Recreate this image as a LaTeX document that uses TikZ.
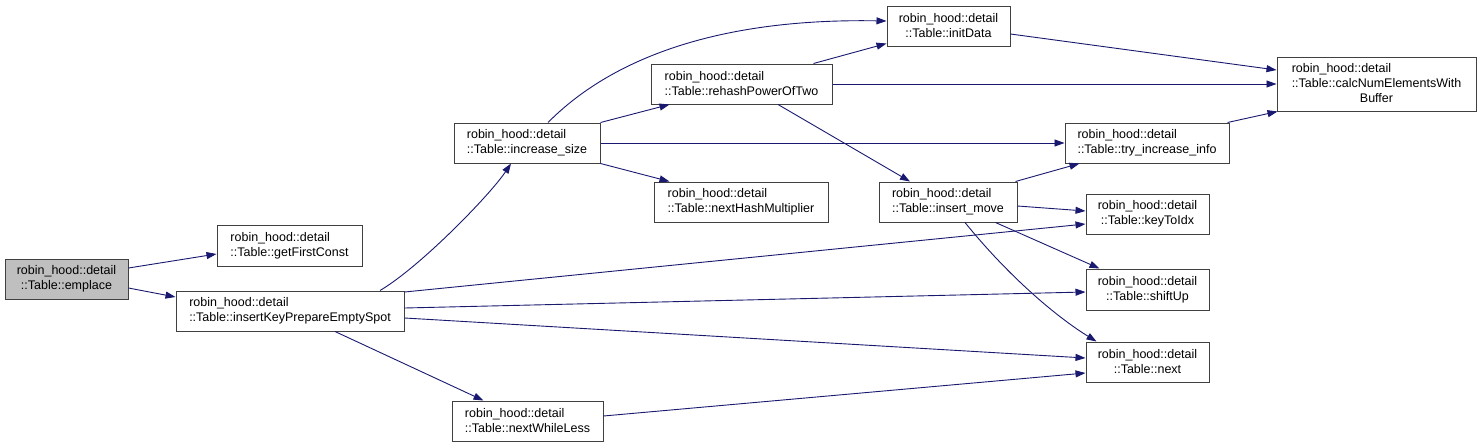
\documentclass[tikz,border=0pt]{standalone}
\usepackage{fontspec}
\setmainfont{Liberation Sans}
\usetikzlibrary{arrows.meta,calc}
\definecolor{edgec}{HTML}{191970}
\definecolor{nodegray}{HTML}{BFBFBF}
\definecolor{boxline}{HTML}{404040}
\begin{document}
\begin{tikzpicture}[x=1pt,y=-1pt,
  fnode/.style={draw=boxline,line width=1pt,fill=white,inner sep=0pt,font=\fontsize{12.5}{15}\selectfont},
  lnode/.style={fnode,align=left},
  cnode/.style={fnode,align=center},
  call/.style={draw=edgec,line width=0.9pt,-{Triangle[length=10pt,width=7pt]}}]
\useasboundingbox (0,0) rectangle (1481,447);
\fill[white] (0,0) rectangle (1481,447);
% nodes
\node[cnode,fill=nodegray,minimum width=123pt,minimum height=40pt] (E) at (66.5,279) {robin\_hood::detail\\::Table::emplace};
\node[lnode,minimum width=145pt,minimum height=41pt] (G) at (289.5,245.5) {robin\_hood::detail\\::Table::getFirstConst};
\node[lnode,minimum width=228pt,minimum height=40pt] (I) at (290,311) {robin\_hood::detail\\::Table::insertKeyPrepareEmptySpot};
\node[lnode,minimum width=146pt,minimum height=40pt] (S) at (527,143) {robin\_hood::detail\\::Table::increase\_size};
\node[lnode,minimum width=181pt,minimum height=40pt] (R) at (741.5,84) {robin\_hood::detail\\::Table::rehashPowerOfTwo};
\node[lnode,minimum width=174pt,minimum height=40pt] (H) at (741,202) {robin\_hood::detail\\::Table::nextHashMultiplier};
\node[lnode,minimum width=151pt,minimum height=40pt] (W) at (527.5,421) {robin\_hood::detail\\::Table::nextWhileLess};
\node[cnode,minimum width=123pt,minimum height=40pt] (D) at (948.5,26) {robin\_hood::detail\\::Table::initData};
\node[fnode,minimum width=199pt,minimum height=54pt] (C) at (1376.5,84) {\begin{tabular}{@{}l@{}}robin\_hood::detail\\::Table::calcNumElementsWith\\\multicolumn{1}{@{}c@{}}{Buffer}\end{tabular}};
\node[lnode,minimum width=164pt,minimum height=40pt] (T) at (1147,143) {robin\_hood::detail\\::Table::try\_increase\_info};
\node[lnode,minimum width=138pt,minimum height=40pt] (M) at (948,202) {robin\_hood::detail\\::Table::insert\_move};
\node[cnode,minimum width=123pt,minimum height=40pt] (K) at (1147.5,214) {robin\_hood::detail\\::Table::keyToIdx};
\node[cnode,minimum width=123pt,minimum height=41pt] (U) at (1147.5,289.5) {robin\_hood::detail\\::Table::shiftUp};
\node[cnode,minimum width=123pt,minimum height=40pt] (N) at (1147.5,362) {robin\_hood::detail\\::Table::next};
% edges
\draw[call] ($(E.east)+(0,-11)$) -- ($(G.west)+(0,8.5)$);
\draw[call] ($(E.east)+(0,9)$) -- ($(I.west)+(0,-14)$);
\draw[call] ($(I.north)+(90,0)$) .. controls (420,267) and (490,195) .. ($(S.south)+(-16,0)$);
\draw[call] ($(I.east)+(0,-19)$) -- ($(K.west)+(0,10)$);
\draw[call] ($(I.east)+(0,-3)$) -- ($(U.west)+(0,2.5)$);
\draw[call] ($(I.east)+(0,7)$) -- ($(N.west)+(0,-4)$);
\draw[call] ($(I.south)+(45,0)$) -- ($(W.north)+(-44,0)$);
\draw[call] ($(W.east)+(0,-5)$) -- ($(N.west)+(0,11)$);
\draw[call] ($(S.north)+(21,0)$) .. controls (610,60) and (715,18) .. ($(D.west)+(0,-5)$);
\draw[call] (S.north east) -- ($(R.south west)+(19,0)$);
\draw[call] (S.east) -- (T.west);
\draw[call] (S.south east) -- ($(H.north west)+(16,0)$);
\draw[call] ($(R.north east)+(-19,0)$) -- ($(D.south west)+(0,-3)$);
\draw[call] (R.east) -- (C.west);
\draw[call] ($(R.south)+(36.5,0)$) -- ($(M.north)+(-38,0)$);
\draw[call] ($(D.east)+(0,8)$) -- ($(C.west)+(0,-14)$);
\draw[call] ($(T.north east)+(-2,0)$) -- ($(C.south west)+(1,0)$);
\draw[call] ($(M.north east)+(-2,0)$) -- ($(T.south west)+(15,0)$);
\draw[call] ($(M.east)+(0,4)$) -- ($(K.west)+(0,-3)$);
\draw[call] ($(M.south east)+(-22,0)$) -- ($(U.north west)+(14,0)$);
\draw[call] ($(M.south)+(17,0)$) .. controls (1005,272) and (1052,314) .. ($(N.north west)+(11,0)$);
\end{tikzpicture}
\end{document}
